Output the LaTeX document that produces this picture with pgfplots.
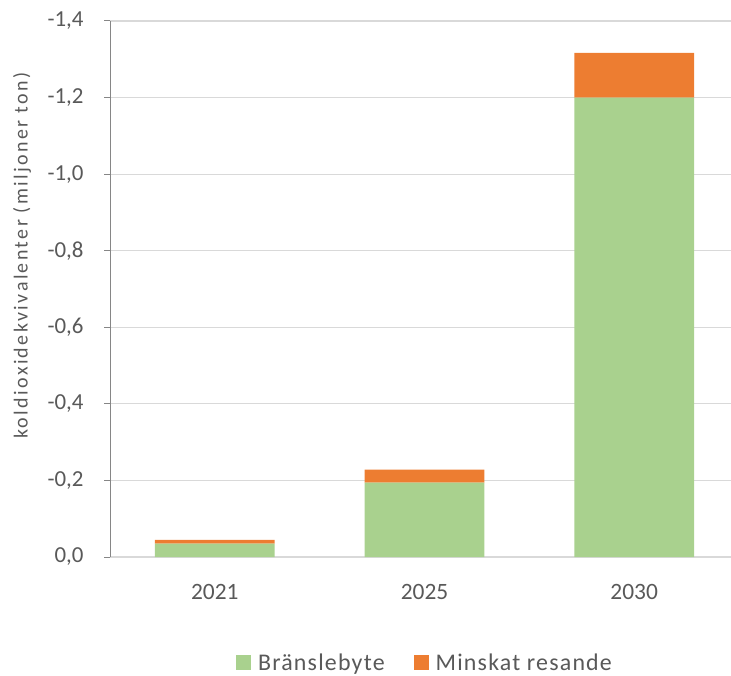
\documentclass[border=0pt]{standalone}
\usepackage{pgfplots}
\pgfplotsset{compat=1.18}
\usepackage{fontspec}
\setmainfont{Carlito}
\newfontfamily\lblfont{Carlito}[LetterSpace=12]
\newfontfamily\legfont{Carlito}[LetterSpace=5]
\definecolor{grn}{HTML}{A9D18E}
\definecolor{org}{HTML}{ED7D31}
\definecolor{txt}{HTML}{595959}
\definecolor{grd}{HTML}{D9D9D9}
\definecolor{axl}{HTML}{868686}
\begin{document}
\begin{tikzpicture}[x=1bp,y=1bp]
\useasboundingbox (0,0) rectangle (731,676);
\begin{axis}[
  at={(110bp,119bp)}, anchor=south west,
  scale only axis, width=629bp, height=536bp,
  ybar stacked, bar width=0.571,
  xmin=-0.5, xmax=2.5, ymin=-1.4, ymax=0, y dir=reverse,
  xtick={0,1,2}, xticklabels={2021,2025,2030},
  ytick={-1.4,-1.2,-1.0,-0.8,-0.6,-0.4,-0.2,0},
  ymajorgrids, grid style={grd, line width=1.2bp},
  axis line style={draw=none},
  xtick style={draw=none},
  ytick style={axl, line width=1bp}, ytick pos=left,
  tick align=outside, major tick length=6bp,
  /pgf/number format/.cd, fixed, fixed zerofill, precision=1, use comma, assume math mode=true,
  /pgfplots/.cd,
  xticklabel style={font=\fontsize{23.5}{28}\selectfont, text=txt, yshift=-18bp},
  yticklabel style={font=\fontsize{23}{28}\selectfont, text=txt, xshift=-17bp},
  ylabel={koldioxidekvivalenter (miljoner ton)},
  ylabel style={at={(axis description cs:0,0.562)}, anchor=center, yshift=88bp, font=\lblfont\fontsize{20}{24}\selectfont, text=txt},
  legend columns=2,
  legend style={at={(axis description cs:0.5,-0.196)}, anchor=center, draw=none, inner sep=0pt, font=\legfont\fontsize{24}{26}\selectfont, text=txt,
    nodes={inner sep=1bp, text depth=0pt},
    /tikz/every odd column/.append style={column sep=6bp},
    /tikz/every even column/.append style={column sep=28bp}},
  legend image code/.code={\fill[#1] (0bp,-7.5bp) rectangle (15bp,7.5bp);},
]
\addplot[fill=grn, draw=none] coordinates {(0,-0.035) (1,-0.194) (2,-1.2)};
\addplot[fill=org, draw=none] coordinates {(0,-0.010) (1,-0.034) (2,-0.117)};
\legend{Bränslebyte, Minskat resande}
\draw[axl, line width=1.2bp] (rel axis cs:0,0) -- (rel axis cs:0,1);
\end{axis}
\end{tikzpicture}
\end{document}
